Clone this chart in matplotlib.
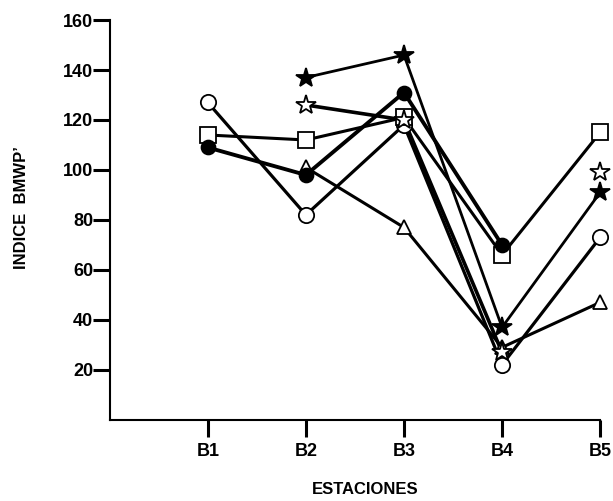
import numpy as np
import matplotlib
matplotlib.use('Agg')
import matplotlib.pyplot as plt

plt.rcParams['font.family'] = ['Liberation Sans', 'DejaVu Sans']

stations = ['B1', 'B2', 'B3', 'B4', 'B5']
nan = np.nan

# BMWP' index, one list per marker type
open_circle = [127, 82, 118, 22, 73]
filled_circle = [109, 98, 131, 70, nan]
square = [114, 112, 121, 66, 115]
triangle = [nan, 101, 77, 29, 47]
filled_star = [nan, 137, 146, 37, 91]
open_star = [nan, 126, 120, 27, 99]

x = np.arange(1, 6)

fig = plt.figure(figsize=(6.13, 5.01), dpi=100)
ax = fig.add_axes([0.179, 0.162, 0.80, 0.798])

# (values, marker, size, face, line width, points joined by the line)
series = [
    (open_circle, 'o', 11, 'white', 2.3, 5),
    (square, 's', 11, 'white', 2.2, 5),
    (triangle, '^', 10, 'white', 2.2, 5),
    (open_star, '*', 15, 'white', 2.6, 4),
    (filled_star, '*', 15, 'black', 2.0, 5),
    (filled_circle, 'o', 10, 'black', 2.8, 5),
]

for vals, mk, ms, fc, lw, n in series:
    v = np.array(vals, dtype=float)
    ax.plot(x[:n], v[:n], color='black', lw=lw, solid_capstyle='round',
            zorder=2, clip_on=False)
    ax.plot(x, v, ls='none', marker=mk, ms=ms, mfc=fc, mec='black', mew=1.3,
            zorder=3, clip_on=False)

ax.set_xlim(0, 5)
ax.set_ylim(0, 160)
ax.set_xticks(x)
ax.set_xticklabels(stations)
ax.set_yticks(np.arange(20, 161, 20))

for s in ['top', 'right']:
    ax.spines[s].set_visible(False)
for s in ['left', 'bottom']:
    ax.spines[s].set_linewidth(1.5)

ax.tick_params(axis='y', length=12, width=2.2, labelsize=13, pad=0)
ax.tick_params(axis='x', length=12, width=2.2, labelsize=13, pad=5)
for lab in ax.get_xticklabels() + ax.get_yticklabels():
    lab.set_fontweight('bold')

ax.set_xlabel('ESTACIONES', fontsize=12, fontweight='bold')
ax.xaxis.set_label_coords(0.52, -0.155)
ax.set_ylabel('INDICE  BMWP’', fontsize=12, fontweight='bold')
ax.yaxis.set_label_coords(-0.165, 0.53)

fig.savefig('out.png', dpi=100)
